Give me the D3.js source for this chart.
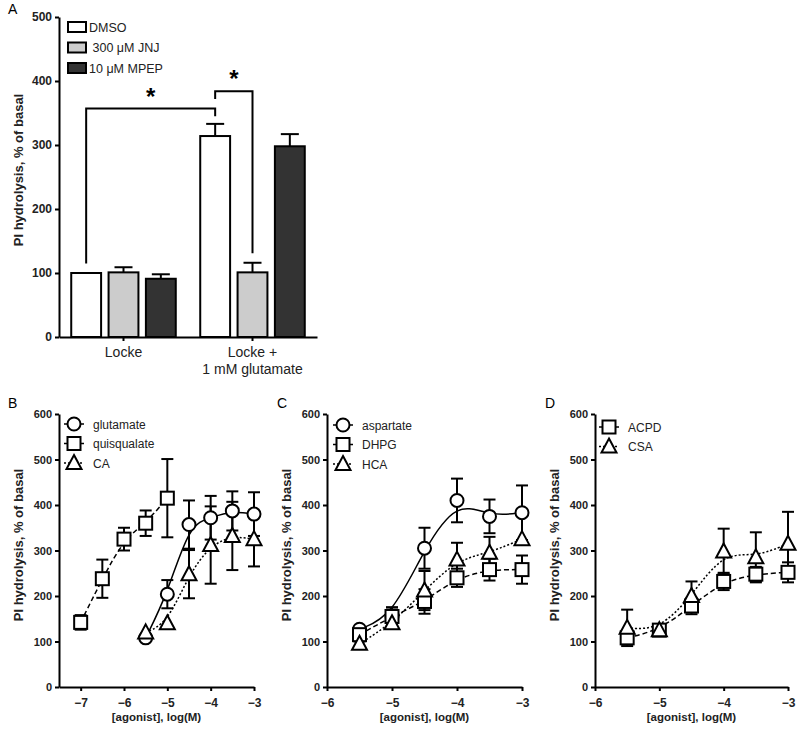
<!DOCTYPE html>
<html>
<head>
<meta charset="utf-8">
<script src="https://cdn.jsdelivr.net/npm/d3@7"></script>
<style>
  body { margin: 0; background: #fff; }
  svg { font-family: "Liberation Sans", Arial, sans-serif; }
  .axis path, .axis line { stroke: #000; stroke-width: 2; }
  .axis text { font-weight: bold; fill: #222; }
</style>
</head>
<body>
<svg id="fig" width="800" height="730"></svg>
<script>
// ---------- panel A data ----------
var groupsA = ["Locke", "Locke +\n1 mM glutamate"];
var treatA = ["DMSO", " 300 \u03bcM JNJ", "10 \u03bcM MPEP"];
var meanA = [[100, 101, 91], [314, 101, 298]];
var semA = [[0, 8, 7], [19, 15, 19]];
var fillA = ["#ffffff", "#cccccc", "#333333"];
var ticksA = [0, 100, 200, 300, 400, 500];

// ---------- panels B-D data (log M, % of basal) ----------
var glutX = [-5.5, -5, -4.5, -4, -3.5, -3];
var glutY = [108, 204, 357, 372, 387, 380];
var glutE = [0, 31, 53, 48, 43, 48];
var quisX = [-7, -6.5, -6, -5.5, -5];
var quisY = [142, 238, 325, 360, 415];
var quisE = [16, 42, 25, 28, 86];
var caX = [-5.5, -5, -4.5, -4, -3.5, -3];
var caY = [120, 140, 248, 312, 332, 325];
var caE = [0, 0, 53, 85, 75, 60];

var aspX = [-5.5, -5, -4.5, -4, -3.5, -3];
var aspY = [127, 155, 305, 410, 375, 383];
var aspE = [0, 20, 45, 48, 37, 60];
var dhpgX = [-5.5, -5, -4.5, -4, -3.5, -3];
var dhpgY = [115, 155, 188, 240, 258, 258];
var dhpgE = [15, 20, 27, 20, 24, 31];
var hcaX = [-5.5, -5, -4.5, -4, -3.5, -3];
var hcaY = [95, 140, 212, 280, 295, 325];
var hcaE = [0, 0, 43, 37, 35, 0];

var acpdX = [-5.5, -5, -4.5, -4, -3.5, -3];
var acpdY = [108, 125, 178, 232, 248, 252];
var acpdE = [0, 0, 18, 19, 16, 22];
var csaX = [-5.5, -5, -4.5, -4, -3.5, -3];
var csaY = [130, 125, 200, 298, 285, 315];
var csaE = [40, 0, 32, 50, 55, 70];

var ticksDose = [0, 100, 200, 300, 400, 500, 600];

var svg = d3.select("#fig");

// ================= Panel A =================
var yA = d3.scaleLinear().domain([0, 500]).range([337, 17]);
var xA = d3.scaleBand().domain(groupsA).range([59, 317]);
var xInner = d3.scaleBand().domain(treatA).range([-56, 56]).paddingInner(0.2).paddingOuter(0.1);

var gA = svg.append("g");

gA.append("text").attr("x", 8).attr("y", 14).style("font-size", "14px").text("A");

gA.append("g").attr("class", "axis")
  .attr("transform", "translate(59,0)")
  .call(d3.axisLeft(yA).tickValues(ticksA).tickSize(4).tickSizeOuter(0))
  .selectAll("text").style("font-size", "12px");

var axA = gA.append("g").attr("class", "axis")
  .attr("transform", "translate(0,337)")
  .call(d3.axisBottom(xA).tickSize(4).tickSizeOuter(0).tickFormat(""));

groupsA.forEach(function(gname, gi) {
  var cx = xA(gname) + xA.bandwidth() / 2;
  var lines = gname.split("\n");
  lines.forEach(function(l, li) {
    gA.append("text").attr("x", cx).attr("y", 357 + li * 17)
      .attr("text-anchor", "middle").style("font-size", "14px").attr("fill", "#222").text(l);
  });
  treatA.forEach(function(t, ti) {
    var bx = cx + xInner(t);
    var w = xInner.bandwidth();
    var v = meanA[gi][ti], e = semA[gi][ti];
    if (e > 0) {
      var mx = bx + w / 2;
      gA.append("line").attr("x1", mx).attr("x2", mx).attr("y1", yA(v)).attr("y2", yA(v + e))
        .attr("stroke", "#000").attr("stroke-width", 2);
      gA.append("line").attr("x1", mx - 9).attr("x2", mx + 9).attr("y1", yA(v + e)).attr("y2", yA(v + e))
        .attr("stroke", "#000").attr("stroke-width", 2);
    }
    gA.append("rect").attr("x", bx).attr("y", yA(v)).attr("width", w).attr("height", yA(0) - yA(v))
      .attr("fill", fillA[ti]).attr("stroke", "#000").attr("stroke-width", 2);
  });
});
axA.raise();

// significance brackets: [group, treat, startValue, topValue, group, treat, endValue]
var bracketsA = [
  [0, 0, 115, 357, 1, 0, 345],
  [1, 0, 372, 384, 1, 1, 131]
];
function barCenter(gi, ti) {
  return xA(groupsA[gi]) + xA.bandwidth() / 2 + xInner(treatA[ti]) + xInner.bandwidth() / 2;
}
bracketsA.forEach(function(b) {
  var x1 = barCenter(b[0], b[1]), x2 = barCenter(b[4], b[5]);
  gA.append("path")
    .attr("d", "M" + x1 + "," + yA(b[2]) + "V" + yA(b[3]) + "H" + x2 + "V" + yA(b[6]))
    .attr("fill", "none").attr("stroke", "#000").attr("stroke-width", 2);
  gA.append("text").attr("x", (x1 + x2) / 2).attr("y", yA(b[3]) - 4)
    .attr("text-anchor", "middle").style("font-size", "24px").style("font-weight", "bold").text("*");
});

// legend A
treatA.forEach(function(t, i) {
  var ly = 22 + i * 20.5;
  gA.append("rect").attr("x", 68).attr("y", ly).attr("width", 18).attr("height", 10)
    .attr("fill", fillA[i]).attr("stroke", "#000").attr("stroke-width", 2);
  gA.append("text").attr("x", 89).attr("y", ly + 9.5).style("font-size", "12.5px")
    .attr("fill", "#222").attr("xml:space", "preserve").style("white-space", "pre").text(t);
});

gA.append("text").attr("transform", "translate(23,170) rotate(-90)")
  .attr("text-anchor", "middle").style("font-size", "13px").style("font-weight", "bold")
  .attr("fill", "#222").text("PI hydrolysis, % of basal");

// ================= Dose-response panels =================
var yDose = d3.scaleLinear().domain([0, 600]).range([687, 414]);

function marker(g, shape, x, y) {
  if (shape === "circle") {
    g.append("circle").attr("cx", x).attr("cy", y).attr("r", 6.5)
      .attr("fill", "#fff").attr("stroke", "#000").attr("stroke-width", 2);
  } else if (shape === "square") {
    g.append("rect").attr("x", x - 6.5).attr("y", y - 6.5).attr("width", 13).attr("height", 13)
      .attr("fill", "#fff").attr("stroke", "#000").attr("stroke-width", 2);
  } else {
    g.append("path").attr("d", "M" + x + "," + (y - 8) + "L" + (x + 7.5) + "," + (y + 6) + "L" + (x - 7.5) + "," + (y + 6) + "Z")
      .attr("fill", "#fff").attr("stroke", "#000").attr("stroke-width", 2);
  }
}
var dashOf = { circle: null, square: "5,3", triangle: "2,2" };

function dosePanel(opt) {
  var g = svg.append("g");
  var x = d3.scaleLinear().domain(opt.domain).range(opt.range);

  g.append("text").attr("x", opt.labelX).attr("y", 408).style("font-size", "14px").text(opt.label);

  g.append("g").attr("class", "axis")
    .attr("transform", "translate(" + opt.range[0] + ",0)")
    .call(d3.axisLeft(yDose).tickValues(ticksDose).tickSize(4).tickSizeOuter(0))
    .selectAll("text").style("font-size", "11px");
  g.append("g").attr("class", "axis")
    .attr("transform", "translate(0,687)")
    .call(d3.axisBottom(x).tickValues(opt.xticks).tickSize(4).tickSizeOuter(0).tickFormat(d3.format("d")))
    .selectAll("text").style("font-size", "12px").attr("dy", "1.05em");

  g.append("text").attr("x", (opt.range[0] + opt.range[1]) / 2).attr("y", 721)
    .attr("text-anchor", "middle").style("font-size", "11.5px").style("font-weight", "bold")
    .attr("fill", "#222").text("[agonist], log(M)");
  g.append("text").attr("transform", "translate(" + (opt.range[0] - 36) + ",545) rotate(-90)")
    .attr("text-anchor", "middle").style("font-size", "13px").style("font-weight", "bold")
    .attr("fill", "#222").text("PI hydrolysis, % of basal");

  var line = d3.line().curve(d3.curveBasis)
    .x(function(d) { return x(d[0]); }).y(function(d) { return yDose(d[1]); });

  opt.series.forEach(function(s) {
    var pts = s.x.map(function(v, i) { return [v, s.y[i]]; });
    g.append("path").attr("d", line(pts)).attr("fill", "none").attr("stroke", "#000")
      .attr("stroke-width", 1.5).attr("stroke-dasharray", dashOf[s.shape]);
  });
  opt.series.forEach(function(s) {
    s.x.forEach(function(v, i) {
      if (!s.e[i]) return;
      var px = x(v);
      [s.y[i] + s.e[i], s.y[i] - s.e[i]].forEach(function(end) {
        g.append("line").attr("x1", px).attr("x2", px).attr("y1", yDose(s.y[i])).attr("y2", yDose(end))
          .attr("stroke", "#000").attr("stroke-width", 2);
        g.append("line").attr("x1", px - 6).attr("x2", px + 6).attr("y1", yDose(end)).attr("y2", yDose(end))
          .attr("stroke", "#000").attr("stroke-width", 2);
      });
    });
  });
  opt.series.forEach(function(s) {
    s.x.forEach(function(v, i) { marker(g, s.shape, x(v), yDose(s.y[i])); });
  });

  // legend
  opt.series.forEach(function(s, i) {
    var ly = opt.legY + i * 19.5;
    g.append("line").attr("x1", opt.legX - 10).attr("x2", opt.legX + 10).attr("y1", ly).attr("y2", ly)
      .attr("stroke", "#000").attr("stroke-width", 1.5).attr("stroke-dasharray", dashOf[s.shape]);
    marker(g, s.shape, opt.legX, ly);
    g.append("text").attr("x", opt.legX + 19).attr("y", ly + 4.5).style("font-size", "12px")
      .attr("fill", "#222").text(s.name);
  });
}

dosePanel({
  label: "B", labelX: 8, domain: [-7.5, -3], range: [59, 254], xticks: [-7, -6, -5, -4, -3],
  legX: 74, legY: 424,
  series: [
    { name: "glutamate", shape: "circle", x: glutX, y: glutY, e: glutE },
    { name: "quisqualate", shape: "square", x: quisX, y: quisY, e: quisE },
    { name: "CA", shape: "triangle", x: caX, y: caY, e: caE }
  ]
});
dosePanel({
  label: "C", labelX: 277, domain: [-6, -3], range: [327, 522], xticks: [-6, -5, -4, -3],
  legX: 343, legY: 425,
  series: [
    { name: "aspartate", shape: "circle", x: aspX, y: aspY, e: aspE },
    { name: "DHPG", shape: "square", x: dhpgX, y: dhpgY, e: dhpgE },
    { name: "HCA", shape: "triangle", x: hcaX, y: hcaY, e: hcaE }
  ]
});
dosePanel({
  label: "D", labelX: 545, domain: [-6, -3], range: [595, 788], xticks: [-6, -5, -4, -3],
  legX: 609, legY: 427,
  series: [
    { name: "ACPD", shape: "square", x: acpdX, y: acpdY, e: acpdE },
    { name: "CSA", shape: "triangle", x: csaX, y: csaY, e: csaE }
  ]
});
</script>
</body>
</html>
